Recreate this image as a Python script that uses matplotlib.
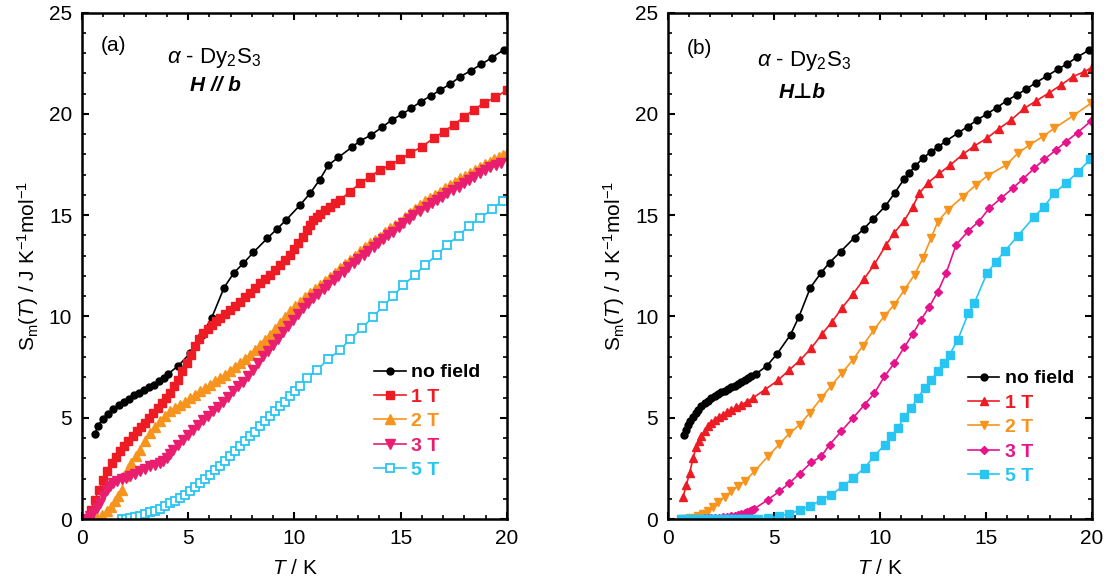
import numpy as np
import matplotlib.pyplot as plt
from matplotlib.ticker import MultipleLocator

plt.rcParams['font.family'] = ['Liberation Sans', 'DejaVu Sans']
plt.rcParams['mathtext.fontset'] = 'custom'
plt.rcParams['mathtext.rm'] = 'Liberation Sans'
plt.rcParams['mathtext.it'] = 'Liberation Sans:italic'
plt.rcParams['mathtext.bf'] = 'Liberation Sans:bold'

# --- (a) H // b ---
a_T0 = [0.61, 0.75, 0.97, 1.23, 1.48, 1.72, 1.97, 2.2, 2.45, 2.68, 2.91, 3.15, 3.39, 3.62,
        3.86, 4.07, 4.54, 5.09, 5.64, 6.1, 6.69, 7.16, 7.6, 8.07, 8.73, 9.17, 9.61, 10.27,
        10.74, 11.18, 11.6, 12.07, 12.7, 13.09, 13.61, 14.11, 14.58, 15.05, 15.49, 15.95,
        16.42, 16.86, 17.33, 17.8, 18.3, 18.79, 19.29, 19.84]
a_S0 = [4.21, 4.6, 4.93, 5.21, 5.43, 5.62, 5.8, 5.95, 6.1, 6.23, 6.36, 6.5, 6.64, 6.8,
        6.96, 7.18, 7.57, 8.19, 9.1, 9.92, 11.43, 12.17, 12.63, 13.17, 13.87, 14.31, 14.77,
        15.51, 16.09, 16.74, 17.48, 17.86, 18.36, 18.67, 18.96, 19.34, 19.7, 19.98, 20.28,
        20.61, 20.9, 21.18, 21.48, 21.84, 22.14, 22.45, 22.78, 23.16]

a_T1 = [0.22, 0.42, 0.61, 0.8, 1.0, 1.2, 1.4, 1.6, 1.79, 1.98, 2.18, 2.38, 2.57, 2.77, 2.97,
        3.16, 3.36, 3.56, 3.75, 3.95, 4.14, 4.34, 4.54, 4.73, 4.93, 5.12, 5.32, 5.51, 5.71,
        5.91, 6.11, 6.3, 6.5, 6.73, 6.97, 7.2, 7.44, 7.67, 7.91, 8.14, 8.38, 8.61, 8.85,
        9.08, 9.32, 9.56, 9.8, 10.0, 10.19, 10.39, 10.58, 10.74, 10.89, 11.05, 11.21, 11.45,
        11.68, 11.92, 12.15, 12.62, 13.09, 13.56, 14.03, 14.51, 14.98, 15.45, 16.0, 16.55,
        17.02, 17.49, 17.96, 18.43, 18.9, 19.45, 20.0]
a_S1 = [0.0, 0.45, 0.95, 1.45, 1.94, 2.38, 2.76, 3.06, 3.34, 3.6, 3.83, 4.08, 4.33, 4.54,
        4.74, 4.98, 5.23, 5.48, 5.72, 5.97, 6.22, 6.55, 6.88, 7.29, 7.7, 8.1, 8.52, 8.87,
        9.18, 9.4, 9.59, 9.76, 9.92, 10.12, 10.33, 10.53, 10.74, 10.94, 11.15, 11.4, 11.64,
        11.85, 12.06, 12.3, 12.55, 12.8, 13.04, 13.33, 13.62, 13.95, 14.28, 14.53, 14.77,
        14.93, 15.07, 15.25, 15.43, 15.6, 15.76, 16.17, 16.58, 16.91, 17.24, 17.48, 17.76,
        18.06, 18.39, 18.8, 19.13, 19.46, 19.84, 20.2, 20.53, 20.82, 21.18]

a_T2 = [0.2, 0.45, 0.7, 0.93, 1.16, 1.35, 1.55, 1.71, 1.87, 2.0, 2.16, 2.33, 2.53, 2.73,
        2.96, 3.2, 3.43, 3.67, 3.9, 4.14, 4.38, 4.62, 4.85, 5.09, 5.32, 5.56, 5.8, 6.03,
        6.27, 6.5, 6.73, 6.97, 7.2, 7.44, 7.67, 7.91, 8.14, 8.38, 8.61, 8.85, 9.08, 9.32,
        9.56, 9.8, 10.03, 10.27, 10.5, 10.74, 10.97, 11.21, 11.45, 11.68, 11.92, 12.15,
        12.38, 12.62, 12.85, 13.09, 13.33, 13.56, 13.8, 14.03, 14.27, 14.51, 14.75, 14.98,
        15.22, 15.45, 15.69, 15.92, 16.16, 16.39, 16.63, 16.86, 17.1, 17.33, 17.57, 17.8,
        18.03, 18.27, 18.5, 18.74, 18.98, 19.22, 19.41, 19.61, 19.8, 20.0]
a_S2 = [0.0, 0.02, 0.05, 0.18, 0.38, 0.6, 0.87, 1.15, 1.45, 2.1, 2.45, 2.76, 3.1, 3.42,
        3.85, 4.24, 4.55, 4.82, 5.08, 5.31, 5.48, 5.64, 5.8, 5.97, 6.13, 6.3, 6.46, 6.63,
        6.8, 6.96, 7.12, 7.29, 7.5, 7.7, 7.9, 8.11, 8.35, 8.6, 8.85, 9.1, 9.38, 9.67, 9.96,
        10.25, 10.5, 10.74, 10.95, 11.15, 11.35, 11.56, 11.76, 11.97, 12.17, 12.38, 12.59,
        12.8, 13.0, 13.21, 13.42, 13.62, 13.78, 13.95, 14.15, 14.36, 14.52, 14.69, 14.9,
        15.1, 15.3, 15.51, 15.68, 15.84, 16.0, 16.17, 16.33, 16.5, 16.66, 16.83, 16.95,
        17.07, 17.23, 17.4, 17.52, 17.65, 17.77, 17.89, 17.99, 18.09]

a_T3 = [0.2, 0.37, 0.53, 0.69, 0.85, 1.0, 1.16, 1.32, 1.48, 1.67, 1.87, 2.06, 2.26, 2.5,
        2.73, 2.96, 3.2, 3.43, 3.67, 3.83, 3.99, 4.15, 4.3, 4.54, 4.77, 5.0, 5.24, 5.47,
        5.71, 5.95, 6.19, 6.42, 6.66, 6.89, 7.13, 7.36, 7.6, 7.83, 8.07, 8.3, 8.54, 8.77,
        9.01, 9.24, 9.48, 9.71, 9.95, 10.18, 10.42, 10.65, 10.89, 11.13, 11.37, 11.6, 11.84,
        12.07, 12.31, 12.54, 12.78, 13.01, 13.25, 13.48, 13.72, 13.95, 14.19, 14.42, 14.66,
        14.9, 15.13, 15.37, 15.6, 15.92, 16.23, 16.46, 16.7, 16.94, 17.17, 17.45, 17.72,
        17.96, 18.2, 18.47, 18.74, 18.98, 19.22, 19.47, 19.72]
a_S3 = [0.0, 0.15, 0.3, 0.55, 0.79, 1.12, 1.45, 1.62, 1.78, 1.88, 1.97, 2.04, 2.1, 2.22,
        2.35, 2.48, 2.6, 2.68, 2.76, 2.88, 3.01, 3.2, 3.42, 3.67, 3.91, 4.15, 4.38, 4.62,
        4.87, 5.09, 5.31, 5.53, 5.76, 6.03, 6.3, 6.55, 6.79, 7.08, 7.37, 7.7, 8.03, 8.31,
        8.6, 8.9, 9.21, 9.52, 9.84, 10.12, 10.41, 10.66, 10.9, 11.12, 11.35, 11.58, 11.81,
        12.01, 12.22, 12.42, 12.63, 12.83, 13.04, 13.23, 13.42, 13.62, 13.82, 14.0, 14.19,
        14.4, 14.6, 14.81, 15.02, 15.22, 15.43, 15.6, 15.76, 15.92, 16.09, 16.25, 16.41,
        16.58, 16.74, 16.9, 17.07, 17.23, 17.4, 17.5, 17.6]

a_T5 = [1.87, 2.06, 2.26, 2.5, 2.73, 2.96, 3.2, 3.43, 3.67, 3.9, 4.14, 4.38, 4.62, 4.85,
        5.09, 5.32, 5.56, 5.8, 6.03, 6.27, 6.5, 6.73, 6.97, 7.2, 7.44, 7.67, 7.91, 8.14,
        8.38, 8.61, 8.85, 9.08, 9.32, 9.56, 9.8, 10.03, 10.27, 10.58, 11.05, 11.6, 12.15,
        12.62, 13.17, 13.69, 14.19, 14.66, 15.13, 15.68, 16.15, 16.7, 17.17, 17.72, 18.2,
        18.74, 19.29, 19.81]
a_S5 = [0.0, 0.02, 0.05, 0.1, 0.16, 0.24, 0.33, 0.42, 0.51, 0.64, 0.79, 0.91, 1.04, 1.2,
        1.37, 1.57, 1.78, 1.98, 2.19, 2.41, 2.63, 2.86, 3.09, 3.34, 3.59, 3.83, 4.08, 4.32,
        4.57, 4.82, 5.07, 5.31, 5.56, 5.8, 6.05, 6.3, 6.55, 6.96, 7.37, 7.89, 8.36, 8.88,
        9.42, 9.97, 10.53, 11.02, 11.56, 12.06, 12.55, 13.04, 13.54, 13.98, 14.47, 14.85,
        15.3, 15.72]

# --- (b) H perp b ---
b_T0 = [0.74, 0.84, 0.94, 1.06, 1.18, 1.3, 1.41, 1.57, 1.73, 1.88, 2.04, 2.2, 2.36, 2.51,
        2.67, 2.83, 2.99, 3.14, 3.3, 3.46, 3.61, 3.77, 3.93, 4.16, 4.67,
        5.15, 5.78, 6.17, 6.72, 7.23, 7.62, 8.14, 8.8, 9.24, 9.68, 10.26, 10.69, 11.13,
        11.39, 11.66, 12.02, 12.41, 12.76, 13.12, 13.67, 14.14, 14.58, 15.04, 15.51, 15.98,
        16.45, 16.89, 17.36, 17.88, 18.38, 18.82, 19.29, 19.87]
b_S0 = [4.16, 4.42, 4.65, 4.85, 5.03, 5.22, 5.39, 5.56, 5.72, 5.85, 5.97, 6.08, 6.18, 6.26,
        6.33, 6.42, 6.5, 6.59, 6.68, 6.78, 6.87, 6.95, 7.04, 7.17, 7.57,
        8.16, 9.1, 9.97, 11.43, 12.17, 12.66, 13.2, 13.9, 14.33, 14.82, 15.46, 16.09, 16.78,
        17.1, 17.43, 17.81, 18.14, 18.39, 18.67, 19.05, 19.38, 19.7, 20.0, 20.31, 20.66,
        20.94, 21.22, 21.55, 21.88, 22.2, 22.47, 22.8, 23.16]

b_T1 = [0.71, 0.87, 1.02, 1.18, 1.34, 1.45, 1.57, 1.73, 1.89, 2.04, 2.2, 2.39, 2.59, 2.79,
        2.99, 3.22, 3.46, 3.73, 4.0, 4.56, 5.18, 5.73, 6.25, 6.76, 7.27, 7.75, 8.22, 8.72,
        9.24, 9.74, 10.29, 10.68, 11.15, 11.55, 11.86, 12.25, 12.8, 13.32, 13.91, 14.45,
        15.04, 15.6, 16.18, 16.81, 17.36, 17.99, 18.54, 19.09, 19.64, 20.0]
b_S1 = [1.09, 1.7, 2.27, 3.0, 3.58, 3.85, 4.08, 4.33, 4.57, 4.75, 4.9, 5.03, 5.15, 5.27,
        5.39, 5.51, 5.64, 5.8, 5.97, 6.38, 6.84, 7.37, 7.86, 8.44, 9.14, 9.75, 10.44, 11.1,
        11.84, 12.58, 13.54, 14.14, 14.74, 15.43, 16.09, 16.58, 17.07, 17.48, 18.01, 18.42,
        18.8, 19.26, 19.7, 20.28, 20.64, 21.05, 21.43, 21.84, 22.09, 22.3]

b_T2 = [0.63, 1.02, 1.41, 1.65, 1.89, 2.12, 2.36, 2.67, 2.99, 3.3, 3.61, 4.08, 4.71, 5.26,
        5.73, 6.21, 6.68, 7.23, 7.7, 8.2, 8.72, 9.19, 9.69, 10.21, 10.68, 11.15, 11.63,
        12.02, 12.41, 12.73, 13.2, 13.91, 14.53, 15.08, 15.95, 16.5, 17.05, 17.67, 18.22,
        19.09, 19.95]
b_S2 = [0.0, 0.05, 0.13, 0.24, 0.38, 0.58, 0.82, 1.1, 1.37, 1.62, 1.86, 2.35, 3.09, 3.7,
        4.24, 4.65, 5.23, 5.97, 6.58, 7.2, 7.86, 8.55, 9.31, 10.03, 10.58, 11.32, 12.06,
        12.88, 13.87, 14.69, 15.26, 15.92, 16.5, 16.96, 17.48, 18.06, 18.47, 18.88, 19.29,
        19.9, 20.53]

b_T3 = [0.63, 0.79, 0.95, 1.1, 1.26, 1.41, 1.57, 1.73, 1.89, 2.04, 2.2, 2.4, 2.6, 2.8,
        2.99, 3.15, 3.3, 3.46, 3.61, 3.73, 3.85, 3.97, 4.08, 4.71, 5.26,
        5.73, 6.21, 6.76, 7.23, 7.62, 8.17, 8.72, 9.27, 9.74, 10.21, 10.68, 11.15, 11.55,
        11.94, 12.33, 12.73, 13.12, 13.59, 14.17, 14.66, 15.16, 15.71, 16.26, 16.73, 17.28,
        17.75, 18.3, 18.77, 19.32, 19.95]
b_S3 = [0.0, 0.0, 0.0, 0.01, 0.01, 0.02, 0.02, 0.03, 0.03, 0.04, 0.05, 0.07, 0.09, 0.11,
        0.13, 0.16, 0.2, 0.25, 0.3, 0.35, 0.4, 0.45, 0.51, 0.95, 1.37, 1.78,
        2.24, 2.8, 3.09, 3.67, 4.33, 4.98, 5.64, 6.22, 7.04, 7.7, 8.49, 9.14, 9.84, 10.49,
        11.23, 12.14, 13.54, 14.23, 14.69, 15.35, 15.84, 16.33, 16.78, 17.32, 17.76, 18.22,
        18.63, 19.08, 19.65]

b_T5 = [0.63, 0.79, 0.95, 1.1, 1.26, 1.41, 1.57, 1.73, 1.89, 2.04, 2.2, 2.36, 2.52, 2.67,
        2.83, 2.99, 3.14, 3.3, 3.46, 3.61, 3.77, 3.92, 4.08, 4.24, 4.74,
        5.22, 5.73, 6.25, 6.72, 7.23, 7.7, 8.25, 8.72, 9.27, 9.74, 10.24, 10.53, 10.84,
        11.15, 11.47, 11.78, 12.1, 12.41, 12.73, 13.04, 13.28, 13.67, 14.17, 14.45, 15.05,
        15.48, 15.9, 16.5, 17.28, 17.75, 18.22, 18.77, 19.32, 19.92]
b_S5 = [0.0, 0.0, 0.0, 0.0, 0.0, 0.0, 0.0, 0.0, 0.0, 0.0, 0.0, 0.0, 0.0, 0.0, 0.0, 0.0,
        0.0, 0.0, 0.0, 0.0, 0.0, 0.0, 0.0, 0.0, 0.05, 0.13, 0.25,
        0.46, 0.63, 0.95, 1.2, 1.61, 2.02, 2.52, 3.13, 3.67, 4.08, 4.49, 5.03, 5.48, 5.97,
        6.46, 6.88, 7.29, 7.7, 8.11, 8.85, 10.16, 10.66, 12.14, 12.71, 13.24, 13.98, 14.93,
        15.43, 16.09, 16.58, 17.12, 17.76]

labels = ['no field', '1 T', '2 T', '3 T', '5 T']
col_a = ['black', '#ed1c24', '#f7941d', '#e91e6e', '#29c5f2']
col_b = ['black', '#ed1c24', '#f7941d', '#e5138c', '#29c5f2']

fig = plt.figure(figsize=(11.12, 5.86), dpi=100)
ax1 = fig.add_axes([0.0737, 0.1143, 0.3822, 0.8640])
ax2 = fig.add_axes([0.6007, 0.1143, 0.3813, 0.8640])

# panel (a)
ax1.plot(a_T0, a_S0, '-', color=col_a[0], marker='o', ms=5, lw=1.2, label=labels[0])
ax1.plot(a_T1, a_S1, '-', color=col_a[1], marker='s', ms=6, lw=1.2, label=labels[1])
ax1.plot(a_T2, a_S2, '-', color=col_a[2], marker='^', ms=7, lw=1.2, label=labels[2])
ax1.plot(a_T3, a_S3, '-', color=col_a[3], marker='v', ms=7, lw=1.2, label=labels[3])
ax1.plot(a_T5, a_S5, '-', color=col_a[4], marker='s', ms=5.5, mfc='white', mew=1.3,
         lw=1.2, label=labels[4])

# panel (b)
ax2.plot(b_T0, b_S0, '-', color=col_b[0], marker='o', ms=5, lw=1.2, label=labels[0])
ax2.plot(b_T1, b_S1, '-', color=col_b[1], marker='^', ms=6, lw=1.2, label=labels[1])
ax2.plot(b_T2, b_S2, '-', color=col_b[2], marker='v', ms=6, lw=1.2, label=labels[2])
ax2.plot(b_T3, b_S3, '-', color=col_b[3], marker='D', ms=4.5, lw=1.2, label=labels[3])
ax2.plot(b_T5, b_S5, '-', color=col_b[4], marker='s', ms=6, lw=1.2, label=labels[4])

for ax, cols in ((ax1, col_a), (ax2, col_b)):
    ax.set_xlim(0, 20)
    ax.set_ylim(0, 25)
    ax.xaxis.set_major_locator(MultipleLocator(5))
    ax.xaxis.set_minor_locator(MultipleLocator(1))
    ax.yaxis.set_major_locator(MultipleLocator(5))
    ax.yaxis.set_minor_locator(MultipleLocator(1))
    ax.tick_params(which='both', direction='in', top=True, right=True, labelsize=15)
    ax.tick_params(which='major', length=5, width=1.5, pad=7)
    ax.tick_params(which='minor', length=3, width=1.2)
    for sp in ax.spines.values():
        sp.set_linewidth(1.8)
    ax.set_xlabel(r'$\mathit{T}$ / K', fontsize=15, labelpad=8)
    ax.set_ylabel(r'S$_\mathrm{m}$($\mathit{T}$) / J K$^{-1}$mol$^{-1}$', fontsize=15, labelpad=6)
    leg = ax.legend(loc='upper left', frameon=False, handlelength=1.6, handletextpad=0.3,
                    labelspacing=0.35, borderaxespad=0.0,
                    prop={'size': 14, 'weight': 'bold'})
    for txt, c in zip(leg.get_texts(), cols):
        txt.set_color(c)

leg1 = ax1.get_legend()
leg1.set_bbox_to_anchor((0.67, 0.322), transform=ax1.transAxes)
leg2 = ax2.get_legend()
leg2.labelspacing = 0.48
leg2.set_bbox_to_anchor((0.69, 0.31), transform=ax2.transAxes)

ax1.text(0.045, 0.935, '(a)', transform=ax1.transAxes, fontsize=15, va='center')
ax1.text(0.31, 0.91, r'$\alpha$ - Dy$_2$S$_3$', transform=ax1.transAxes, fontsize=16,
         ha='center', va='center')
ax1.text(0.315, 0.856, 'H // b', transform=ax1.transAxes, fontsize=15, ha='center',
         va='center', style='italic', weight='bold')

ax2.text(0.045, 0.93, '(b)', transform=ax2.transAxes, fontsize=15, va='center')
ax2.text(0.32, 0.905, r'$\alpha$ - Dy$_2$S$_3$', transform=ax2.transAxes, fontsize=16,
         ha='center', va='center')
ax2.text(0.316, 0.842, 'H\u22a5b', transform=ax2.transAxes, fontsize=15, ha='center',
         va='center', style='italic', weight='bold', family=['Liberation Sans', 'DejaVu Sans'])

plt.savefig('out.png', dpi=100)
